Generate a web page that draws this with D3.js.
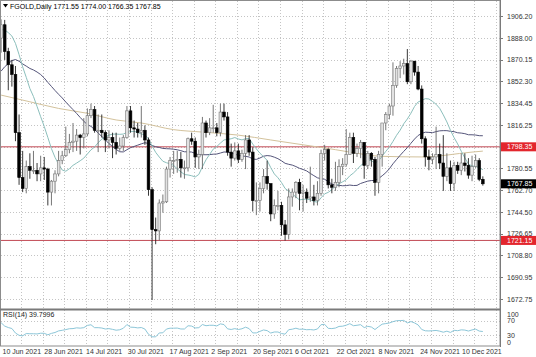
<!DOCTYPE html>
<html><head><meta charset="utf-8">
<script src="https://cdn.jsdelivr.net/npm/d3@7"></script>
<style>html,body{margin:0;padding:0;background:#fff;}svg{display:block;}</style>
</head><body>
<svg id="c" width="536" height="357"></svg>
<script>
// ---------- DATA ----------
const dates = [
"2021-06-10","2021-06-11","2021-06-14","2021-06-15","2021-06-16","2021-06-17","2021-06-18","2021-06-21","2021-06-22","2021-06-23","2021-06-24","2021-06-25","2021-06-28","2021-06-29","2021-06-30",
"2021-07-01","2021-07-02","2021-07-05","2021-07-06","2021-07-07","2021-07-08","2021-07-09","2021-07-12","2021-07-13","2021-07-14","2021-07-15","2021-07-16","2021-07-19","2021-07-20","2021-07-21","2021-07-22","2021-07-23","2021-07-26","2021-07-27","2021-07-28","2021-07-29","2021-07-30",
"2021-08-02","2021-08-03","2021-08-04","2021-08-05","2021-08-06","2021-08-09","2021-08-10","2021-08-11","2021-08-12","2021-08-13","2021-08-16","2021-08-17","2021-08-18","2021-08-19","2021-08-20","2021-08-23","2021-08-24","2021-08-25","2021-08-26","2021-08-27","2021-08-30","2021-08-31",
"2021-09-01","2021-09-02","2021-09-03","2021-09-06","2021-09-07","2021-09-08","2021-09-09","2021-09-10","2021-09-13","2021-09-14","2021-09-15","2021-09-16","2021-09-17","2021-09-20","2021-09-21","2021-09-22","2021-09-23","2021-09-24","2021-09-27","2021-09-28","2021-09-29","2021-09-30",
"2021-10-01","2021-10-04","2021-10-05","2021-10-06","2021-10-07","2021-10-08","2021-10-11","2021-10-12","2021-10-13","2021-10-14","2021-10-15","2021-10-18","2021-10-19","2021-10-20","2021-10-21","2021-10-22","2021-10-25","2021-10-26","2021-10-27","2021-10-28","2021-10-29",
"2021-11-01","2021-11-02","2021-11-03","2021-11-04","2021-11-05","2021-11-08","2021-11-09","2021-11-10","2021-11-11","2021-11-12","2021-11-15","2021-11-16","2021-11-17","2021-11-18","2021-11-19","2021-11-22","2021-11-23","2021-11-24","2021-11-25","2021-11-26","2021-11-29","2021-11-30",
"2021-12-01","2021-12-02","2021-12-03","2021-12-06","2021-12-07","2021-12-08","2021-12-09","2021-12-10","2021-12-13","2021-12-14","2021-12-15"];

const open = [1888,1899,1877,1866,1858,1810,1773,1764,1782,1779,1779,1776,1781,1780,1761,
1770,1776,1787,1791,1796,1802,1803,1808,1806,1809,1824,1829,1812,1812,1810,1804,1806,1802,1797,1799,1806,1828,
1814,1813,1810,1812,1804,1763,1730,1729,1752,1753,1780,1787,1787,1788,1781,1781,1805,1803,1790,1792,1818,1810,
1814,1814,1810,1827,1823,1794,1789,1795,1788,1793,1804,1794,1754,1754,1764,1774,1768,1743,1750,1750,1734,1726,
1757,1761,1769,1760,1761,1756,1757,1754,1760,1793,1796,1767,1765,1769,1782,1784,1792,1806,1793,1797,1802,
1783,1793,1788,1769,1792,1818,1825,1832,1849,1863,1865,1867,1852,1869,1860,1846,1805,1790,1788,1790,1792,1785,
1774,1781,1768,1783,1779,1785,1783,1775,1782,1787,1771.55];
const high = [1903.5,1903,1880,1870,1865,1825,1795,1787,1793,1795,1785,1791,1790,1781,1771,
1779,1795,1795,1815,1809,1818,1813,1809,1822,1830,1834,1832,1825,1825,1812,1812,1810,1810,1806,1808,1832,1832,
1820,1818,1832,1816,1806,1765,1740,1755,1759,1782,1790,1795,1795,1794,1787,1806,1810,1806,1796,1823,1820,1822,
1833,1818,1834,1834,1827,1801,1802,1801,1796,1808,1808,1798,1769,1769,1780,1787,1768,1755,1762,1753,1738,1764,
1764,1770,1772,1767,1764,1782,1767,1770,1796,1800,1797,1772,1786,1788,1789,1813,1810,1810,1801,1804,1802,
1795,1794,1790,1795,1818,1827,1834,1868,1865,1869,1871,1879,1870,1869,1865,1849,1807,1796,1793,1815,1801,1808,
1793,1787,1786,1786,1793,1793,1789,1791,1792,1789,1774.00];
const low = [1876,1870,1845,1848,1803,1767,1761,1760,1772,1776,1770,1770,1771,1750,1750,
1760,1774,1784,1790,1793,1794,1795,1792,1797,1807,1822,1810,1794,1806,1794,1797,1789,1792,1795,1795,1805,1810,
1806,1806,1806,1800,1758,1672,1718,1721,1744,1752,1773,1776,1777,1773,1772,1778,1800,1781,1780,1780,1806,1808,
1810,1807,1807,1820,1791,1782,1787,1785,1786,1780,1791,1745,1742,1745,1760,1763,1737,1739,1746,1725,1721,1722,
1749,1756,1746,1745,1752,1753,1750,1750,1758,1787,1764,1760,1762,1765,1775,1782,1792,1785,1790,1789,1772,
1780,1782,1758,1760,1782,1812,1821,1824,1847,1855,1858,1850,1850,1857,1845,1801,1782,1779,1784,1780,1780,1762,
1770,1762,1762,1776,1775,1778,1772,1770,1781,1770,1766.35];
const close = [1899,1877,1866,1858,1810,1773,1764,1782,1779,1779,1776,1781,1780,1761,1770,
1776,1787,1791,1796,1802,1803,1808,1806,1809,1824,1829,1812,1812,1810,1804,1806,1802,1797,1799,1806,1828,1814,
1813,1810,1812,1804,1763,1730,1729,1752,1753,1780,1787,1787,1788,1781,1781,1805,1803,1790,1792,1818,1810,1814,
1814,1810,1827,1823,1794,1789,1795,1788,1793,1804,1794,1754,1754,1764,1774,1768,1743,1750,1750,1734,1726,1757,
1761,1769,1760,1761,1756,1757,1754,1760,1793,1796,1767,1765,1769,1782,1784,1792,1806,1793,1797,1802,1783,
1793,1788,1769,1792,1818,1825,1832,1849,1863,1865,1867,1852,1869,1860,1846,1805,1790,1788,1790,1792,1785,1774,
1781,1768,1783,1779,1785,1783,1775,1782,1787,1771.5,1767.85];

// closes before the first visible bar (needed for the moving averages / RSI)
const priorCloses = [1773,1768,1769,1792,1779,1784,1815,1831,1836,1837,1816,1827,1843,1867,1868,1870,1877,1881,1881,1898,1897,1895,1903,1905,1903,1908,1871,1891,1899,1893,1888];

// slow moving average: [bar index, value]
const maSlow = [[0,1841],[8,1835.5],[16,1830],[24,1826],[32,1820.5],[39,1818],[48,1812.5],[56,1810.5],[66,1808],[75,1804],[84,1800],[93,1796],[97,1794],[106,1790.5],[117,1790],[131,1794],[134,1794.8]];

const priceTicks = [1906.20,1888.00,1870.15,1852.30,1834.45,1816.25,1798.40,1780.55,1762.70,1744.50,1726.65,1708.80,1690.95,1672.75];
const levelLines = [1798.35,1721.15];
const lastPrice = 1767.85;
const timeLabels = ["10 Jun 2021","28 Jun 2021","14 Jul 2021","30 Jul 2021","17 Aug 2021","2 Sep 2021","20 Sep 2021","6 Oct 2021","22 Oct 2021","8 Nov 2021","24 Nov 2021","10 Dec 2021"];
const rsiTicks = [100,70,30,0];
const rsiLevels = [70,30];
const titleText = "FGOLD,Daily 1771.55 1774.00 1766.35 1767.85";
const rsiText = "RSI(14) 39.7996";

// ---------- DERIVED ----------
const N = dates.length;
const P = priorCloses.length;
const allC = priorCloses.concat(close);
function sma(n){ return close.map((_,i)=>{ const e=P+i; let s=0; for(let k=e-n+1;k<=e;k++) s+=allC[k]; return s/n; }); }
const sma14 = sma(14), sma30 = sma(30);
function rsi(n){
  const out=new Array(allC.length).fill(null);
  let g=0,l=0;
  for(let k=1;k<=n;k++){const d=allC[k]-allC[k-1]; if(d>0)g+=d; else l-=d;}
  g/=n; l/=n; out[n]=100-100/(1+g/(l||1e-9));
  for(let k=n+1;k<allC.length;k++){const d=allC[k]-allC[k-1]; g=(g*(n-1)+Math.max(d,0))/n; l=(l*(n-1)+Math.max(-d,0))/n; out[k]=l===0?100:100-100/(1+g/l);}
  return out.slice(P);
}
const rsi14 = rsi(14);

// ---------- LAYOUT ----------
const svg = d3.select("#c");
const L=1, R=500, T=1, MB=309, RT=310, RB=346;
const step = 3.595;
const x = d3.scaleLinear().domain([0,N-1]).range([1.1, 1.1+(N-1)*step]);
const y = d3.scaleLinear().domain([1664.6,1918.6]).range([MB,T]);
const yr = d3.scaleLinear().domain([0,100]).range([RB,RT]);
const xt = d3.scalePoint().domain(timeLabels).range([2.5, 462]);
const font = "Liberation Sans, Arial, sans-serif";

svg.append("rect").attr("width",536).attr("height",357).attr("fill","#fff");
const defs = svg.append("defs");
defs.append("clipPath").attr("id","mc").append("rect").attr("x",L).attr("y",T).attr("width",R-L).attr("height",MB-T);
defs.append("clipPath").attr("id","rc").append("rect").attr("x",L).attr("y",RT).attr("width",R-L).attr("height",RB-RT);

// grids
const gridC="#c4c4c4";
const vIdx = d3.range(0, 140, 6);
const gv = svg.append("g");
vIdx.forEach(i=>{
  const xx = Math.round(x(i)-1.5)+0.5;
  if (xx<=L+1 || xx>=R) return;
  gv.append("line").attr("x1",xx).attr("x2",xx).attr("y1",T).attr("y2",MB).attr("stroke",gridC).attr("stroke-width",1).attr("stroke-dasharray","1,2");
  gv.append("line").attr("x1",xx).attr("x2",xx).attr("y1",RT).attr("y2",RB).attr("stroke",gridC).attr("stroke-width",1).attr("stroke-dasharray","1,2");
});
priceTicks.forEach(p=>{
  const yy=Math.round(y(p))+0.5;
  gv.append("line").attr("x1",L).attr("x2",R).attr("y1",yy).attr("y2",yy).attr("stroke",gridC).attr("stroke-dasharray","1,2");
});
rsiLevels.forEach(v=>{
  const yy=Math.round(yr(v))+0.5;
  gv.append("line").attr("x1",L).attr("x2",R).attr("y1",yy).attr("y2",yy).attr("stroke",gridC).attr("stroke-dasharray","1,2");
});

// main panel content
const main = svg.append("g").attr("clip-path","url(#mc)");
levelLines.forEach(v=>{
  main.append("line").attr("x1",L).attr("x2",R).attr("y1",y(v)).attr("y2",y(v)).attr("stroke","#c24a55").attr("stroke-width",1);
});
const lineGen = d3.line().x((d,i)=>x(i)).y(d=>y(d));
main.append("path").datum(maSlow).attr("fill","none").attr("stroke","#d3c29c").attr("stroke-width",1)
  .attr("d", d3.line().x(d=>x(d[0])).y(d=>y(d[1])).curve(d3.curveMonotoneX));
main.append("path").datum(sma30).attr("fill","none").attr("stroke","#55557a").attr("stroke-width",1).attr("d",lineGen);
main.append("path").datum(sma14).attr("fill","none").attr("stroke","#8cbfbc").attr("stroke-width",1).attr("d",lineGen);

const bw = 2.7;
const candles = main.append("g");
for(let i=0;i<N;i++){
  const up = close[i]>=open[i];
  const cx = x(i);
  candles.append("line").attr("x1",cx).attr("x2",cx).attr("y1",y(high[i])).attr("y2",y(low[i]))
    .attr("stroke", up?"#666":"#222").attr("stroke-width",0.9);
  const top = y(Math.max(open[i],close[i])), bot = y(Math.min(open[i],close[i]));
  candles.append("rect").attr("x",cx-bw/2).attr("y",top).attr("width",bw).attr("height",Math.max(bot-top,0.9))
    .attr("fill", up?"#e2e2e2":"#000").attr("stroke", up?"#777":"#000").attr("stroke-width",0.6);
}

// RSI panel
const rp = svg.append("g").attr("clip-path","url(#rc)");
rp.append("path").datum(rsi14).attr("fill","none").attr("stroke","#8cc6d8").attr("stroke-width",1)
  .attr("d", d3.line().defined(d=>d!=null).x((d,i)=>x(i)).y(d=>yr(d)));

// frames
svg.append("rect").attr("x",0.5).attr("y",0.5).attr("width",R-0.5).attr("height",RB-0.5).attr("fill","none").attr("stroke","#8c8c8c");
svg.append("line").attr("x1",0).attr("x2",R+1).attr("y1",MB+0.5).attr("y2",MB+0.5).attr("stroke","#7a7a7a").attr("stroke-width",2);
svg.append("line").attr("x1",R+0.5).attr("x2",R+0.5).attr("y1",0).attr("y2",RB+1).attr("stroke","#7a7a7a");

// price axis
const ax = svg.append("g").attr("font-family",font).attr("font-size",7).attr("fill","#333");
priceTicks.forEach(p=>{
  const yy=y(p);
  ax.append("line").attr("x1",R).attr("x2",R+3).attr("y1",Math.round(yy)+0.5).attr("y2",Math.round(yy)+0.5).attr("stroke","#7a7a7a");
  ax.append("text").attr("x",507).attr("y",yy+2.5).text(p.toFixed(2));
});
function tag(v,bg){
  const yy=y(v);
  ax.append("rect").attr("x",R+1).attr("y",yy-4.5).attr("width",35).attr("height",9).attr("fill",bg);
  ax.append("text").attr("x",507).attr("y",yy+2.5).attr("fill","#fff").text(v.toFixed(2));
}
levelLines.forEach(v=>tag(v,"#e3262d"));
tag(lastPrice,"#000");

// RSI axis
rsiTicks.forEach(v=>{
  let yy=yr(v);
  if(v===100) yy=RT+4; if(v===0) yy=RB-4;
  ax.append("text").attr("x",507).attr("y",yy+2.5).text(v);
});

// time axis
timeLabels.forEach(t=>{
  ax.append("text").attr("x",xt(t)).attr("y",354).text(t);
});

// title & RSI label
svg.append("path").attr("d","M3,4 L8,4 L5.5,7.5 Z").attr("fill","#000");
svg.append("text").attr("x",10).attr("y",8.5).attr("font-family",font).attr("font-size",7).attr("fill","#000").text(titleText);
svg.append("text").attr("x",3).attr("y",316.5).attr("font-family",font).attr("font-size",7).attr("fill","#222").text(rsiText);
</script>
</body></html>
